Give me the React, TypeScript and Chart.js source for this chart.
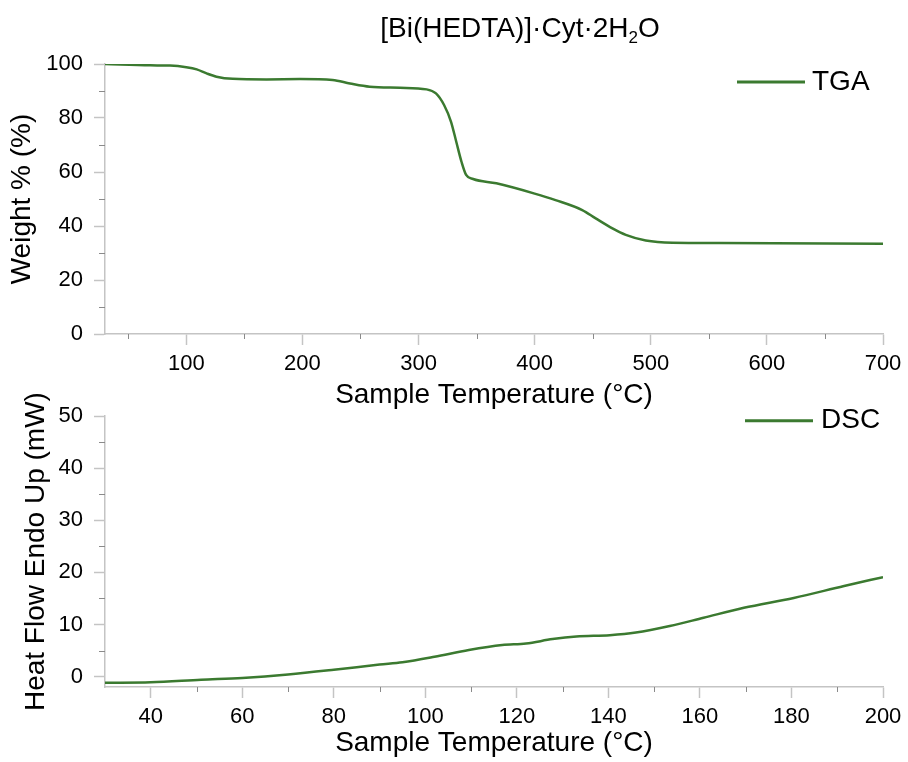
import React, { useEffect, useRef } from 'react';
import { Chart, registerables } from 'chart.js';
Chart.register(...registerables);

// ---------- data ----------
const TITLE_MAIN = '[Bi(HEDTA)]·Cyt·2H';
const TITLE_SUB = '2';
const TITLE_END = 'O';

const tgaTemp = [30, 69, 86, 100, 109, 117.5, 126, 140, 169, 198, 226, 241, 258, 284, 307, 315, 322, 328, 332.5, 337, 341, 347, 367, 400, 418, 441, 452.6, 467, 478.5, 495.7, 518.8, 559, 700];
const tgaWeight = [100, 99.5, 99.4, 98.8, 98, 96.5, 95.3, 94.5, 94.3, 94.4, 94.1, 92.8, 91.6, 91.2, 90.6, 89.1, 84.8, 78.6, 71.2, 63.8, 58.9, 57.4, 55.8, 52, 49.6, 45.9, 42.8, 39.1, 36.7, 34.6, 33.8, 33.7, 33.4];

const dscTemp = [30, 40, 51, 60, 70, 80, 90, 95, 102, 109.5, 116.8, 122, 127.8, 133, 140.3, 146, 153.4, 160.8, 169.6, 180.5, 191.5, 200];
const dscHeat = [-1.2, -1.1, -0.6, -0.25, 0.4, 1.3, 2.3, 2.75, 3.8, 5.1, 6.05, 6.35, 7.2, 7.7, 7.95, 8.45, 9.7, 11.3, 13.2, 15.1, 17.4, 19.1];

const topXTicks = [100, 200, 300, 400, 500, 600, 700];
const topXMinor = [50, 150, 250, 350, 450, 550, 650];
const topYTicks = [0, 20, 40, 60, 80, 100];
const topYMinor = [10, 30, 50, 70, 90];

const botXTicks = [40, 60, 80, 100, 120, 140, 160, 180, 200];
const botXMinor = [50, 70, 90, 110, 130, 150, 170, 190];
const botYTicks = [0, 10, 20, 30, 40, 50];
const botYMinor = [5, 15, 25, 35, 45];

// ---------- styles ----------
const FONT = '"Liberation Sans", Arial, sans-serif';
const GREEN = '#3b7a30';
const AXIS = '#c4c4c4';
const MINOR = '#8a8a8a';

type Cfg = {
  label: string;
  xs: number[];
  ys: number[];
  xMin: number; xMax: number; yMin: number; yMax: number;
  xTicks: number[]; yTicks: number[]; xMinor: number[]; yMinor: number[];
  yTitle: string;
  padding: { top: number; right: number; bottom: number; left: number };
  yWidth: number; xHeight: number; xTitlePad: number; yTitlePad: number;
  legend: { x1: number; x2: number; y: number; tx: number };
  title?: { cx: number; baseline: number };
};

function makeChart(canvas: HTMLCanvasElement, c: Cfg) {
  const textPlugin = {
    id: 'customText',
    afterDraw(chart: any) {
      const ctx = chart.ctx as CanvasRenderingContext2D;
      const xs = chart.scales.x;
      const ys = chart.scales.y;
      const area = chart.chartArea;
      ctx.save();
      // minor ticks
      ctx.strokeStyle = MINOR;
      ctx.lineWidth = 1;
      c.xMinor.forEach((v) => {
        const p = Math.round(xs.getPixelForValue(v)) + 0.5;
        ctx.beginPath();
        ctx.moveTo(p, area.bottom);
        ctx.lineTo(p, area.bottom + 5);
        ctx.stroke();
      });
      c.yMinor.forEach((v) => {
        const p = Math.round(ys.getPixelForValue(v)) + 0.5;
        ctx.beginPath();
        ctx.moveTo(area.left - 6, p);
        ctx.lineTo(area.left, p);
        ctx.stroke();
      });
      // legend
      ctx.strokeStyle = GREEN;
      ctx.lineWidth = 3;
      ctx.beginPath();
      ctx.moveTo(c.legend.x1, c.legend.y);
      ctx.lineTo(c.legend.x2, c.legend.y);
      ctx.stroke();
      ctx.fillStyle = '#000';
      ctx.font = `28px ${FONT}`;
      ctx.textBaseline = 'middle';
      ctx.textAlign = 'left';
      ctx.fillText(chart.data.datasets[0].label, c.legend.tx, c.legend.y);
      // title
      if (c.title) {
        ctx.textBaseline = 'alphabetic';
        ctx.font = `28px ${FONT}`;
        const w1 = ctx.measureText(TITLE_MAIN).width;
        const w3 = ctx.measureText(TITLE_END).width;
        ctx.font = `17px ${FONT}`;
        const w2 = ctx.measureText(TITLE_SUB).width;
        let x = c.title.cx - (w1 + w2 + w3) / 2;
        ctx.font = `28px ${FONT}`;
        ctx.fillText(TITLE_MAIN, x, c.title.baseline);
        x += w1;
        ctx.font = `17px ${FONT}`;
        ctx.fillText(TITLE_SUB, x, c.title.baseline + 6.5);
        x += w2;
        ctx.font = `28px ${FONT}`;
        ctx.fillText(TITLE_END, x, c.title.baseline);
      }
      ctx.restore();
    },
  };

  return new Chart(canvas, {
    type: 'line',
    data: {
      datasets: [
        {
          label: c.label,
          data: c.xs.map((x, i) => ({ x, y: c.ys[i] })),
          borderColor: GREEN,
          borderWidth: 2.5,
          pointRadius: 0,
          fill: false,
          cubicInterpolationMode: 'monotone',
        },
      ],
    },
    options: {
      responsive: false,
      animation: false,
      layout: { padding: c.padding },
      plugins: {
        legend: { display: false },
        tooltip: { enabled: false },
        title: { display: false },
      },
      scales: {
        x: {
          type: 'linear',
          min: c.xMin,
          max: c.xMax,
          afterBuildTicks: (s: any) => { s.ticks = c.xTicks.map((v) => ({ value: v })); },
          afterFit: (s: any) => { s.height = c.xHeight; },
          grid: { display: true, drawOnChartArea: false, drawTicks: true, tickLength: 11, tickColor: AXIS, tickWidth: 1.5 },
          border: { display: true, color: AXIS, width: 1.5 },
          ticks: { color: '#000', font: { family: FONT, size: 22 }, padding: 6, maxRotation: 0, autoSkip: false },
          title: { display: true, text: 'Sample Temperature (°C)', color: '#000', font: { family: FONT, size: 28 }, padding: { top: 0, bottom: c.xTitlePad } },
        },
        y: {
          type: 'linear',
          min: c.yMin,
          max: c.yMax,
          afterBuildTicks: (s: any) => { s.ticks = c.yTicks.map((v) => ({ value: v })); },
          afterFit: (s: any) => { s.width = c.yWidth; },
          grid: { display: true, drawOnChartArea: false, drawTicks: true, tickLength: 11, tickColor: AXIS, tickWidth: 1.5 },
          border: { display: true, color: AXIS, width: 1.5 },
          ticks: { color: '#000', font: { family: FONT, size: 22 }, padding: 11, autoSkip: false },
          title: { display: true, text: c.yTitle, color: '#000', font: { family: FONT, size: 28 }, padding: { top: c.yTitlePad, bottom: 0 } },
        },
      },
    } as any,
    plugins: [textPlugin],
  });
}

const TOP_H = 420;
const BOT_TOP = 392;
const BOT_H = 762 - BOT_TOP;

export default function App() {
  const topRef = useRef<HTMLCanvasElement>(null);
  const botRef = useRef<HTMLCanvasElement>(null);

  useEffect(() => {
    const top = makeChart(topRef.current!, {
      label: 'TGA',
      xs: tgaTemp, ys: tgaWeight,
      xMin: 30, xMax: 700, yMin: 0, yMax: 100,
      xTicks: topXTicks, yTicks: topYTicks, xMinor: topXMinor, yMinor: topYMinor,
      yTitle: 'Weight % (%)',
      padding: { top: 64, right: 25, bottom: 0, left: 0 },
      yWidth: 105, xHeight: TOP_H - 334, xTitlePad: 8, yTitlePad: 5,
      legend: { x1: 737, x2: 805, y: 82, tx: 812 },
      title: { cx: 520, baseline: 36.5 },
    });
    const bot = makeChart(botRef.current!, {
      label: 'DSC',
      xs: dscTemp, ys: dscHeat,
      xMin: 30, xMax: 200, yMin: -2, yMax: 50,
      xTicks: botXTicks, yTicks: botYTicks, xMinor: botXMinor, yMinor: botYMinor,
      yTitle: 'Heat Flow Endo Up (mW)',
      padding: { top: 414 - BOT_TOP, right: 25, bottom: 0, left: 0 },
      yWidth: 105, xHeight: BOT_H - (687 - BOT_TOP), xTitlePad: 2, yTitlePad: 19,
      legend: { x1: 745, x2: 813, y: 420.7 - BOT_TOP, tx: 821 },
    });
    return () => {
      top.destroy();
      bot.destroy();
    };
  }, []);

  return (
    <div style={{ position: 'fixed', left: 0, top: 0, width: 908, height: 762, background: '#fff' }}>
      <canvas ref={topRef} width={908} height={TOP_H} style={{ position: 'absolute', left: 0, top: 0 }} />
      <canvas ref={botRef} width={908} height={BOT_H} style={{ position: 'absolute', left: 0, top: BOT_TOP }} />
    </div>
  );
}
